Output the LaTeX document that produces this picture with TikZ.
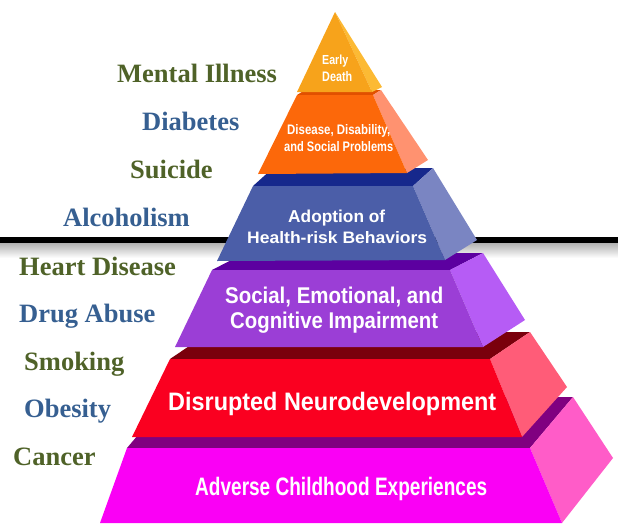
\documentclass[tikz,border=0pt]{standalone}
\usepackage{fontspec}
\usepackage{graphicx}
\setmainfont{Liberation Serif}
\newfontfamily\tierfont{Liberation Sans}
\definecolor{lblgreen}{RGB}{79,98,40}
\definecolor{lblblue}{RGB}{54,95,145}
\definecolor{edFront}{RGB}{247,163,27}
\definecolor{edSide}{RGB}{252,186,52}
\definecolor{orFront}{RGB}{252,104,10}
\definecolor{orTop}{RGB}{225,80,0}
\definecolor{orSide}{RGB}{255,146,112}
\definecolor{blFront}{RGB}{75,94,168}
\definecolor{blTop}{RGB}{22,40,140}
\definecolor{blSide}{RGB}{122,133,194}
\definecolor{puFront}{RGB}{155,62,214}
\definecolor{puTop}{RGB}{92,0,160}
\definecolor{puSide}{RGB}{182,92,245}
\definecolor{reFront}{RGB}{250,0,32}
\definecolor{reTop}{RGB}{122,0,12}
\definecolor{reSide}{RGB}{255,92,120}
\definecolor{maFront}{RGB}{250,0,245}
\definecolor{maTop}{RGB}{128,0,128}
\definecolor{maSide}{RGB}{255,92,200}
\newcommand{\tiertext}[3]{\resizebox{#1pt}{#2pt}{\tierfont\bfseries #3}}
\begin{document}
\begin{tikzpicture}[x=1pt,y=-1pt,
  lbl/.style={anchor=base west, inner sep=0pt, font=\fontsize{26.5}{30}\selectfont\bfseries},
  grn/.style={lbl, text=lblgreen},
  blu/.style={lbl, text=lblblue},
  tierlbl/.style={anchor=base west, inner sep=0pt, text=white}]
\useasboundingbox (0,0) rectangle (618,525);
% separator line with shadow
\shade[top color=gray!60, bottom color=white] (0,243) rectangle (618,258);
\fill[black] (0,237) rectangle (618,243);
% magenta tier
\fill[maTop] (127,448) -- (530,448) -- (573,397) -- (170,397) -- cycle;
\fill[maSide] (530,448) -- (573,397) -- (613,458) -- (562,523) -- cycle;
\fill[maFront] (127,448) -- (530,448) -- (562,523) -- (100,523) -- cycle;
% red tier
\fill[reTop] (170,359) -- (490,359) -- (530,332) -- (210,332) -- cycle;
\fill[reSide] (490,359) -- (530,332) -- (567,387) -- (522,437) -- cycle;
\fill[reFront] (170,359) -- (490,359) -- (522,437) -- (132,437) -- cycle;
% purple tier
\fill[puTop] (212,270) -- (450,270) -- (483,253) -- (245,253) -- cycle;
\fill[puSide] (450,270) -- (483,253) -- (525,320) -- (483,347) -- cycle;
\fill[puFront] (212,270) -- (450,270) -- (483,347) -- (175,347) -- cycle;
% blue tier
\fill[blTop] (253,186) -- (413,186) -- (433,168) -- (273,168) -- cycle;
\fill[blSide] (413,186) -- (433,168) -- (477,240) -- (445,260) -- cycle;
\fill[blFront] (253,186) -- (413,186) -- (445,260) -- (217,261) -- cycle;
% orange tier
\fill[orTop] (297,95) -- (373,95) -- (381,90) -- (305,90) -- cycle;
\fill[orSide] (373,95) -- (381,90) -- (428,160) -- (407,173) -- cycle;
\fill[orFront] (297,95) -- (373,95) -- (407,173) -- (258,174) -- cycle;
% top triangle
\fill[edSide] (335,12) -- (372,92) -- (382,87) -- cycle;
\fill[edFront] (335,12) -- (297,92) -- (372,92) -- cycle;
% tier texts
\node[tierlbl] (early) at (322,64.5) {\tiertext{26}{9.5}{Early}};
\node[tierlbl] (death) at (322,81.5) {\tiertext{30}{10}{Death}};
\node[tierlbl] (dis1) at (287,134) {\tiertext{103}{10}{Disease, Disability,}};
\node[tierlbl] (dis2) at (284,151.5) {\tiertext{109}{10}{and Social Problems}};
\node[tierlbl] (ado1) at (288,222.5) {\tiertext{97}{12.5}{Adoption of}};
\node[tierlbl] (ado2) at (247,243) {\tiertext{180}{12}{Health-risk Behaviors}};
\node[tierlbl] (soc1) at (225,303.5) {\tiertext{218}{16.5}{Social, Emotional, and}};
\node[tierlbl] (soc2) at (230,328) {\tiertext{208}{16.5}{Cognitive Impairment}};
\node[tierlbl] (neu) at (168,410) {\tiertext{328}{18.3}{Disrupted Neurodevelopment}};
\node[tierlbl] (ace) at (195,495) {\tiertext{292}{18.3}{Adverse Childhood Experiences}};
% side labels
\node[grn] (mental) at (117,82) {Mental Illness};
\node[blu] (diab) at (142,130) {Diabetes};
\node[grn] (suic) at (130,178) {Suicide};
\node[blu] (alco) at (63,226) {Alcoholism};
\node[grn] (heart) at (19,275) {Heart Disease};
\node[blu] (drug) at (19,322) {Drug Abuse};
\node[grn] (smok) at (24,370) {Smoking};
\node[blu] (obes) at (24,417) {Obesity};
\node[grn] (canc) at (13,465) {Cancer};
\end{tikzpicture}
\end{document}
